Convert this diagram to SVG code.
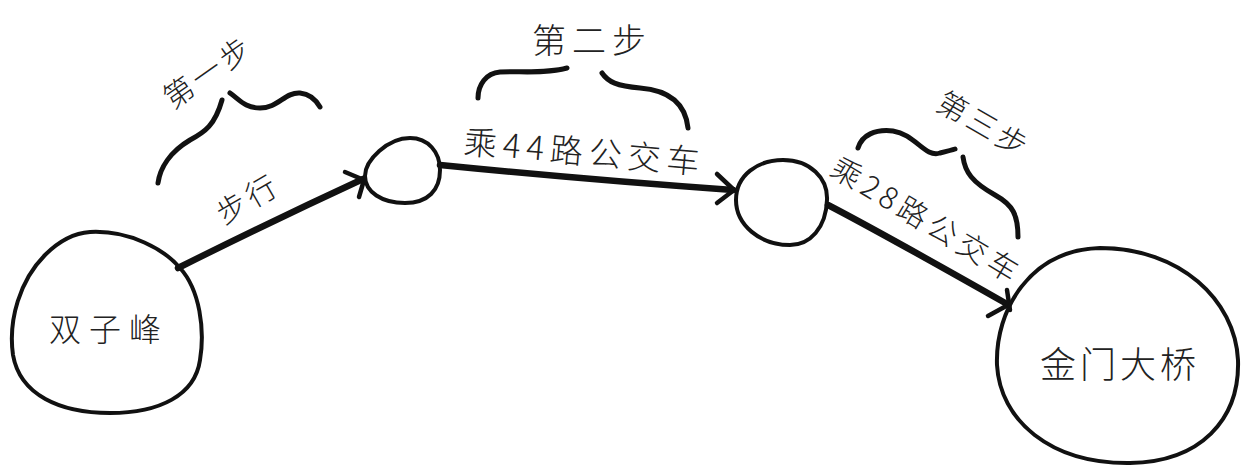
<svg xmlns="http://www.w3.org/2000/svg" width="1241" height="467" viewBox="0 0 1241 467">
<style>
  .node { fill: none; stroke: #111; stroke-width: 4; stroke-linejoin: round; }
  .edge { fill: none; stroke: #111; stroke-width: 6.5; stroke-linecap: round; stroke-linejoin: round; }
  .head { fill: none; stroke: #111; stroke-width: 4.5; stroke-linecap: round; stroke-linejoin: round; }
  .brace { fill: none; stroke: #111; stroke-width: 5; stroke-linecap: round; stroke-linejoin: round; }
  .t { font-family: "Noto Sans CJK SC", "Noto Sans", sans-serif; font-weight: 300; fill: #222; text-anchor: middle; dominant-baseline: central; }
</style>
<rect width="1241" height="467" fill="#fff"/>

<g id="connectors">
  <path class="edge" d="M 178 268 Q 270 222 363 179"/>
  <path class="head" d="M 345 172 L 364 180 L 359 197"/>
  <path class="edge" d="M 440 165 Q 590 180 733 190"/>
  <path class="head" d="M 717 174 L 734 190 L 717 203"/>
  <path class="edge" d="M 828 205 Q 880 232 1007 304"/>
  <path class="head" d="M 988 316 L 1008 305 M 1007 290 L 1010 310"/>
</g>

<g id="labels">
  <text class="t" transform="translate(247 197) rotate(-30)" font-size="30" letter-spacing="4">步行</text>
  <text class="t" transform="translate(585 150) rotate(5)" font-size="33" letter-spacing="6">乘44路公交车</text>
  <text class="t" transform="translate(928 219) rotate(31)" font-size="30" letter-spacing="5">乘28路公交车</text>
</g>

<g id="step1">
  <path class="brace" d="M 158 183 C 160 168, 170 152, 190 140 C 205 132, 215 125, 222 100"/>
  <path class="brace" d="M 230 93 C 240 100, 245 108, 260 108 C 278 108, 285 92, 300 93 C 310 94, 316 100, 320 107"/>
  <text class="t" transform="translate(207 70) rotate(-35)" font-size="30" letter-spacing="4">第一步</text>
</g>

<g id="step2">
  <path class="brace" d="M 478 98 C 478 85, 486 73, 500 72 C 520 71, 545 74, 567 68"/>
  <path class="brace" d="M 602 73 C 608 82, 617 86, 640 88 C 665 90, 685 100, 688 128"/>
  <text class="t" x="592" y="38" font-size="34" letter-spacing="6">第二步</text>
</g>

<g id="step3">
  <path class="brace" d="M 858 148 C 862 135, 875 129, 893 131 C 915 134, 925 158, 940 153 C 948 151, 952 150, 955 149"/>
  <path class="brace" d="M 963 157 C 965 172, 972 182, 995 195 C 1013 205, 1018 215, 1018 237"/>
  <text class="t" transform="translate(985 123) rotate(30)" font-size="30" letter-spacing="4">第三步</text>
</g>

<g id="node-shuangzifeng">
  <path class="node" d="M 90 232 C 130 230, 165 250, 180 268 C 200 290, 205 330, 200 360 C 195 395, 160 413, 110 413 C 60 413, 20 395, 13 355 C 8 320, 20 280, 45 255 C 60 240, 75 233, 90 232 Z"/>
  <text class="t" x="109" y="327" font-size="32" letter-spacing="8">双子峰</text>
</g>

<g id="node-stop1">
  <path class="node" d="M 410 138 C 428 138, 440 152, 440 170 C 440 190, 428 203, 405 203 C 382 203, 365 192, 365 176 C 365 160, 388 138, 410 138 Z"/>
</g>

<g id="node-stop2">
  <path class="node" d="M 783 160 C 810 160, 828 178, 827 200 C 826 228, 810 245, 790 245 C 760 245, 736 225, 736 200 C 736 175, 758 160, 783 160 Z"/>
</g>

<g id="node-jinmendaqiao">
  <path class="node" d="M 1100 248 C 1180 248, 1235 300, 1238 360 C 1240 420, 1200 462, 1130 463 C 1050 464, 1000 420, 997 365 C 995 310, 1030 250, 1100 248 Z"/>
  <text class="t" x="1120" y="362" font-size="36" letter-spacing="4">金门大桥</text>
</g>
</svg>
